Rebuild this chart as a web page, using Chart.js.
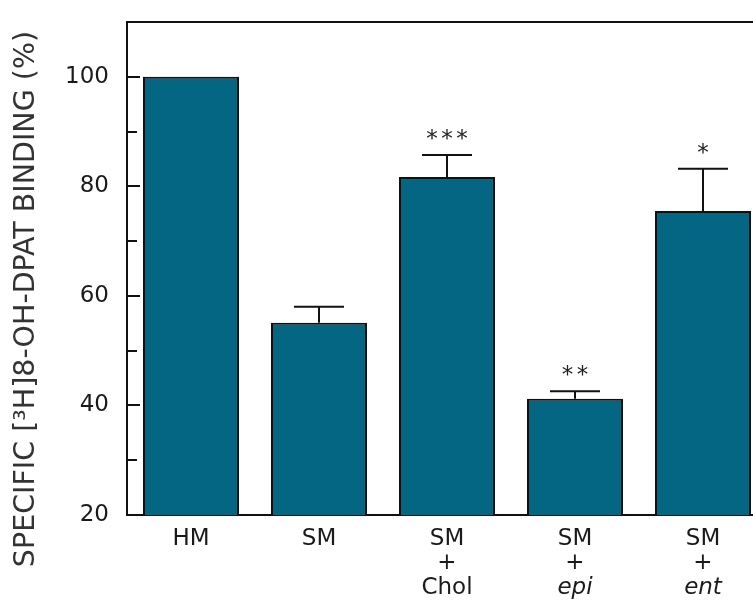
<!DOCTYPE html>
<html>
<head>
<meta charset="utf-8">
<script src="https://cdn.jsdelivr.net/npm/chart.js@4/dist/chart.umd.min.js"></script>
<style>
  html, body { margin: 0; padding: 0; background: #fff; overflow: hidden; }
  #wrap { width: 770px; height: 604px; }
</style>
</head>
<body>
<div id="wrap"><canvas id="binding-chart"></canvas></div>
<script>
const groups = ['HM', 'SM', 'SM+Chol', 'SM+epi', 'SM+ent'];
const labelLines = [['HM'], ['SM'], ['SM', '+', 'Chol'], ['SM', '+', 'epi'], ['SM', '+', 'ent']];
const italicLast = [false, false, false, true, true];
const binding = [100, 55.1, 81.7, 41.2, 75.5];
const sem = [0, 2.9, 4.0, 1.4, 7.7];
const stars = ['', '', '***', '**', '*'];
const yLabels = [20, 40, 60, 80, 100];
const yTitle = 'SPECIFIC [\u00B3H]8-OH-DPAT BINDING (%)';

const FONT = '"DejaVu Sans", Verdana, sans-serif';

// error bars, significance stars, inner tick marks, top frame, axis texts
const extras = {
  id: 'extras',
  afterDatasetsDraw(chart) {
    const ctx = chart.ctx;
    const x = chart.scales.x;
    const y = chart.scales.y;
    const area = chart.chartArea;
    ctx.save();
    ctx.strokeStyle = '#111';
    ctx.lineWidth = 2;

    // top frame
    ctx.beginPath();
    ctx.moveTo(area.left - 1, area.top);
    ctx.lineTo(area.right, area.top);
    ctx.stroke();

    // inner ticks
    for (let v = 30; v < 110; v += 10) {
      const py = Math.round(y.getPixelForValue(v));
      const len = v % 20 === 0 ? 13 : 10;
      ctx.beginPath();
      ctx.moveTo(area.left, py);
      ctx.lineTo(area.left + len, py);
      ctx.stroke();
    }

    binding.forEach((val, i) => {
      const cx = Math.round(x.getPixelForValue(i));
      const top = y.getPixelForValue(val);
      const errTop = y.getPixelForValue(val + sem[i]);
      if (sem[i] > 0) {
        ctx.beginPath();
        ctx.moveTo(cx, top);
        ctx.lineTo(cx, errTop);
        ctx.moveTo(cx - 25, errTop);
        ctx.lineTo(cx + 25, errTop);
        ctx.stroke();
      }
      if (stars[i]) {
        ctx.fillStyle = '#222';
        ctx.font = '23px ' + FONT;
        ctx.textAlign = 'center';
        ctx.textBaseline = 'alphabetic';
        const n = stars[i].length;
        for (let k = 0; k < n; k++) {
          const sx = cx + (k - (n - 1) / 2) * 15;
          ctx.fillText('*', sx, errTop - 9);
        }
      }

      // category labels
      ctx.fillStyle = '#1a1a1a';
      ctx.textAlign = 'center';
      ctx.textBaseline = 'middle';
      labelLines[i].forEach((line, j) => {
        const italic = italicLast[i] && j === 2;
        ctx.font = (italic ? 'italic ' : '') + '23px ' + FONT;
        ctx.fillText(line, cx, area.bottom + 24 + j * 24.5);
      });
    });

    // y title, centred a bit below the plot middle like the original
    ctx.translate(27, 299);
    ctx.rotate(-Math.PI / 2);
    ctx.fillStyle = '#333';
    ctx.font = '28.5px ' + FONT;
    ctx.textAlign = 'center';
    ctx.textBaseline = 'middle';
    ctx.fillText(yTitle, 0, 0);
    ctx.restore();
  }
};

new Chart(document.getElementById('binding-chart'), {
  type: 'bar',
  data: {
    labels: groups,
    datasets: [{
      data: binding,
      backgroundColor: '#056684',
      borderColor: '#111',
      borderWidth: 2,
      borderSkipped: false,
      categoryPercentage: 0.75,
      barPercentage: 1,
    }]
  },
  options: {
    animation: false,
    responsive: true,
    maintainAspectRatio: false,
    layout: { padding: { top: 22, right: 3, left: 0, bottom: 0 } },
    plugins: {
      legend: { display: false },
      tooltip: { enabled: false },
    },
    scales: {
      x: {
        offset: true,
        grid: { display: false, drawTicks: false },
        border: { display: true, color: '#111', width: 2 },
        ticks: { display: false },
        afterFit: (s) => { s.height = 89; s.paddingLeft = 0; s.paddingRight = 0; },
      },
      y: {
        min: 20,
        max: 110,
        grid: { display: false, drawTicks: false },
        border: { display: true, color: '#111', width: 2 },
        ticks: {
          stepSize: 10,
          padding: 18,
          color: '#1a1a1a',
          font: { family: FONT, size: 23 },
          callback: (v) => yLabels.includes(v) ? String(v) : '',
        },
        afterFit: (s) => { s.width = 127; s.paddingTop = 0; s.paddingBottom = 0; },
      }
    }
  },
  plugins: [extras]
});
</script>
</body>
</html>
